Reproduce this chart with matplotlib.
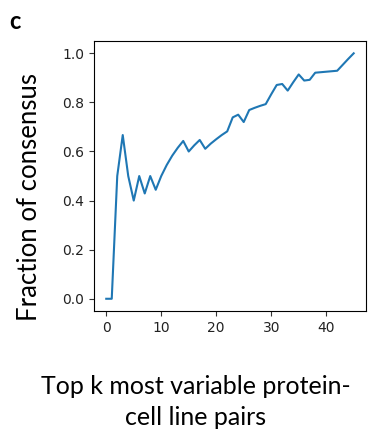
import matplotlib
matplotlib.use("Agg")
import matplotlib.pyplot as plt
import numpy as np

# top k values and fraction of consensus
k = np.arange(0, 46)
fraction = [
    0.0, 0.0, 0.5, 0.667, 0.5, 0.4, 0.5, 0.429, 0.5, 0.444,
    0.5, 0.545, 0.583, 0.615, 0.643, 0.6, 0.625, 0.647, 0.611, 0.632,
    0.65, 0.667, 0.682, 0.739, 0.75, 0.72, 0.769, 0.778, 0.786, 0.793,
    0.833, 0.871, 0.875, 0.848, 0.882, 0.914, 0.889, 0.892, 0.921, 0.923,
    0.925, 0.927, 0.929, 0.953, 0.977, 1.0,
]
xticks = [0, 10, 20, 30, 40]
yticks = [0.0, 0.2, 0.4, 0.6, 0.8, 1.0]

label_font = ["Lato", "DejaVu Sans"]


def main():
    fig = plt.figure(figsize=(3.77, 4.32), dpi=100)
    ax = fig.add_axes([0.249, 0.280, 0.722, 0.625])
    ax.plot(k, fraction, color="#1f77b4", lw=1.5)
    ax.set_xticks(xticks)
    ax.set_yticks(yticks)
    ax.set_yticklabels(["%.1f" % v for v in yticks])
    ax.tick_params(labelsize=10, colors="#333333", labelcolor="#222222")

    fig.text(0.078, 0.544, "Fraction of consensus", rotation=90,
             ha="center", va="center", fontsize=18.5, family=label_font)
    fig.text(0.52, 0.069, "Top k most variable protein-\ncell line pairs",
             ha="center", va="center", fontsize=18, family=label_font,
             linespacing=1.45)
    fig.text(0.025, 0.950, "c", ha="left", va="center", fontsize=17,
             fontweight="bold", family=label_font)

    fig.savefig("out.png", dpi=100)


if __name__ == "__main__":
    main()
